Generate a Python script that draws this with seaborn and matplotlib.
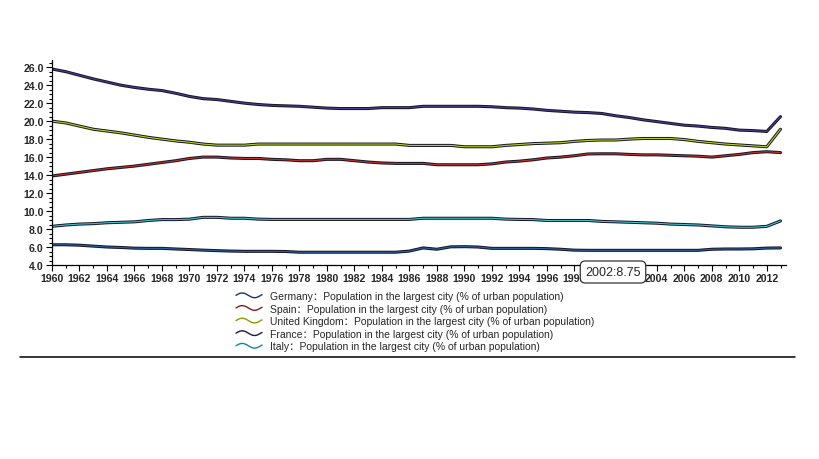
import numpy as np
import pandas as pd
import matplotlib
matplotlib.use('Agg')
import matplotlib.pyplot as plt
import matplotlib.patheffects as pe
from matplotlib.lines import Line2D
from matplotlib.legend_handler import HandlerBase
from matplotlib.ticker import MultipleLocator, FuncFormatter, FormatStrFormatter
import seaborn as sns

# --- data ---
YEARS = list(range(1960, 2014))

GERMANY = [6.25, 6.25, 6.2, 6.1, 6.0, 5.95, 5.87, 5.85, 5.85, 5.78,
           5.72, 5.65, 5.6, 5.55, 5.52, 5.52, 5.52, 5.5, 5.42, 5.42,
           5.42, 5.42, 5.42, 5.42, 5.42, 5.42, 5.55, 5.9, 5.75, 6.02,
           6.04, 6.0, 5.85, 5.85, 5.85, 5.85, 5.82, 5.75, 5.65, 5.63,
           5.63, 5.63, 5.63, 5.63, 5.63, 5.63, 5.63, 5.63, 5.75, 5.78,
           5.78, 5.8, 5.88, 5.9]
SPAIN = [13.9, 14.1, 14.3, 14.5, 14.7, 14.85, 15.0, 15.2, 15.4, 15.6,
         15.85, 16.0, 16.0, 15.9, 15.85, 15.85, 15.75, 15.7, 15.6, 15.6,
         15.75, 15.75, 15.6, 15.45, 15.35, 15.3, 15.3, 15.3, 15.15, 15.15,
         15.15, 15.15, 15.25, 15.45, 15.55, 15.7, 15.9, 16.0, 16.15, 16.35,
         16.37, 16.37, 16.3, 16.25, 16.25, 16.2, 16.15, 16.1, 16.0, 16.15,
         16.3, 16.5, 16.6, 16.5]
UK = [20.0, 19.8, 19.45, 19.1, 18.9, 18.7, 18.45, 18.2, 18.0, 17.8,
      17.65, 17.45, 17.33, 17.33, 17.33, 17.45, 17.45, 17.45, 17.45, 17.45,
      17.45, 17.45, 17.45, 17.45, 17.45, 17.45, 17.3, 17.3, 17.3, 17.3,
      17.15, 17.15, 17.15, 17.3, 17.4, 17.5, 17.55, 17.6, 17.75, 17.85,
      17.9, 17.9, 18.0, 18.07, 18.07, 18.07, 17.95, 17.75, 17.6, 17.45,
      17.35, 17.25, 17.15, 19.1]
FRANCE = [25.8, 25.5, 25.1, 24.7, 24.35, 24.0, 23.75, 23.55, 23.4, 23.1,
          22.75, 22.5, 22.4, 22.2, 22.0, 21.85, 21.75, 21.7, 21.65, 21.55,
          21.45, 21.4, 21.4, 21.4, 21.5, 21.5, 21.5, 21.65, 21.65, 21.65,
          21.65, 21.65, 21.6, 21.5, 21.45, 21.35, 21.2, 21.1, 21.0, 20.95,
          20.85, 20.6, 20.4, 20.15, 19.95, 19.75, 19.55, 19.45, 19.3, 19.2,
          19.0, 18.95, 18.85, 20.5]
ITALY = [8.3, 8.45, 8.55, 8.6, 8.7, 8.75, 8.8, 8.95, 9.05, 9.05,
         9.1, 9.3, 9.3, 9.2, 9.2, 9.1, 9.07, 9.07, 9.07, 9.07,
         9.07, 9.07, 9.07, 9.07, 9.07, 9.07, 9.07, 9.2, 9.2, 9.2,
         9.2, 9.2, 9.2, 9.1, 9.07, 9.05, 8.95, 8.95, 8.95, 8.95,
         8.85, 8.8, 8.75, 8.7, 8.65, 8.55, 8.5, 8.45, 8.35, 8.25,
         8.2, 8.2, 8.3, 8.9]

SUFFIX = '：Population in the largest city (% of urban population)'
COUNTRIES = ['Germany', 'Spain', 'United Kingdom', 'France', 'Italy']
SERIES = [GERMANY, SPAIN, UK, FRANCE, ITALY]
LINE_COLORS = ['#2a5fa0', '#c0302a', '#b5d40a', '#4a3d8f', '#3cc0d0']
ICON_COLORS = ['#1f2f6f', '#8b1a1a', '#8a9a00', '#1a1a3a', '#0a8a9a']

TOOLTIP = '2002:8.75'
HIDDEN_YEARS = (2000, 2002)  # year labels sitting under the tooltip

df = pd.concat(
    [pd.DataFrame({'year': YEARS, 'value': vals, 'country': name})
     for name, vals in zip(COUNTRIES, SERIES)],
    ignore_index=True,
)

# --- style ---
sns.set_style('white')
plt.rcParams['font.family'] = ['Liberation Sans', 'Noto Sans CJK SC']

fig = plt.figure(figsize=(8.19, 4.6), dpi=100)
ax = fig.add_axes([52 / 819, 1 - 266 / 460, (786 - 52) / 819, 205 / 460])

sns.lineplot(data=df, x='year', y='value', hue='country', hue_order=COUNTRIES,
             palette=dict(zip(COUNTRIES, LINE_COLORS)), linewidth=0.8,
             legend=False, ax=ax)

for line in ax.get_lines():
    line.set_path_effects([pe.Stroke(linewidth=2.2, foreground='#151525'),
                           pe.Normal()])

ax.set_xlim(1960, 2013.4)
ax.set_ylim(4, 26.8)
ax.set_xlabel('')
ax.set_ylabel('')
ax.xaxis.set_major_locator(MultipleLocator(2))
ax.xaxis.set_minor_locator(MultipleLocator(1))
ax.xaxis.set_major_formatter(FuncFormatter(
    lambda v, _: '' if int(round(v)) in HIDDEN_YEARS else f'{int(round(v))}'))
ax.yaxis.set_major_locator(MultipleLocator(2))
ax.yaxis.set_minor_locator(MultipleLocator(0.5))
ax.yaxis.set_major_formatter(FormatStrFormatter('%.1f'))
ax.tick_params(which='both', direction='out', color='black', width=0.8,
               labelsize=7.6, pad=2)
ax.tick_params(which='major', length=4)
ax.tick_params(which='minor', length=2.5)
ax.tick_params(axis='both', which='both', bottom=True, left=True)
for lbl in ax.get_xticklabels() + ax.get_yticklabels():
    lbl.set_fontweight('bold')
sns.despine(ax=ax)
for side in ('left', 'bottom'):
    ax.spines[side].set_color('black')
    ax.spines[side].set_linewidth(0.9)


# wavy legend icon
class WaveHandler(HandlerBase):
    def create_artists(self, legend, orig_handle, xdescent, ydescent,
                       width, height, fontsize, trans):
        t = np.linspace(0, 1, 40)
        xs = -xdescent + t * width
        ys = -ydescent + height / 2 + height * 0.32 * np.sin(2 * np.pi * t * 1.05)
        wave = Line2D(xs, ys, color=orig_handle.get_color(), lw=1.0)
        wave.set_transform(trans)
        return [wave]


handles = [Line2D([], [], color=c) for c in ICON_COLORS]
labels = [name + SUFFIX for name in COUNTRIES]
fig.legend(handles, labels, loc='upper left',
           bbox_to_anchor=(236 / 819, 1 - 292 / 460), frameon=False,
           fontsize=7.5, handlelength=2.5, handletextpad=0.75,
           labelspacing=0.25, borderaxespad=0, borderpad=0,
           handler_map={Line2D: WaveHandler()})

# rule under the legend
fig.add_artist(Line2D([20 / 819, 795 / 819], [1 - 358 / 460, 1 - 358 / 460],
                      color='black', lw=1.1, transform=fig.transFigure))

# hover tooltip left in the screenshot
fig.text(613 / 819, 1 - 273 / 460, TOOLTIP, ha='center', va='center',
         fontsize=9, zorder=10,
         bbox=dict(boxstyle='round,pad=0.4', facecolor='white',
                   edgecolor='#333333', linewidth=0.9))

fig.savefig('out.png', dpi=100)
